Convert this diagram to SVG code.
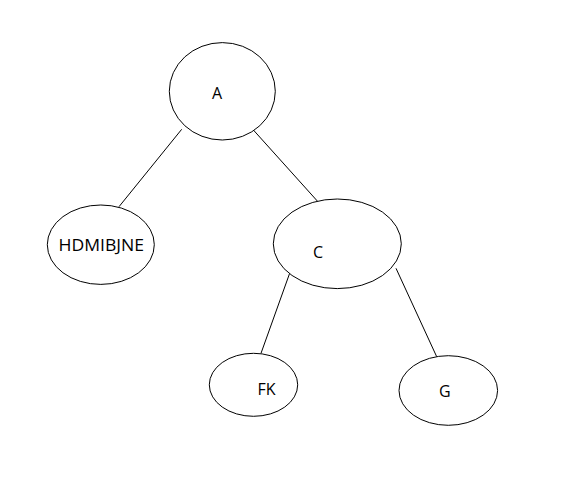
<svg xmlns="http://www.w3.org/2000/svg" width="569" height="481" viewBox="0 0 569 481">
<style>
.n{fill:#fff;stroke:#000;stroke-width:1}
.t{font-family:"Open Sans","Noto Sans",sans-serif;font-size:16px;fill:#000}
.e{stroke:#000;stroke-width:1;fill:none}
</style>
<rect width="569" height="481" fill="#fff"/>
<g id="connectors">
<line class="e" x1="181.7" y1="129.3" x2="119" y2="206.7"/>
<line class="e" x1="251.3" y1="127.7" x2="317.3" y2="201"/>
<line class="e" x1="290" y1="272.3" x2="261" y2="353.3"/>
<line class="e" x1="396" y1="268.3" x2="436.7" y2="356.7"/>
</g>
<g id="node-A">
<ellipse class="n" cx="222.3" cy="91.3" rx="53" ry="48.7"/>
<text class="t" x="212" y="98.5">A</text>
</g>
<g id="node-HDMIBJNE">
<ellipse class="n" cx="100.8" cy="244.7" rx="53.5" ry="39.7"/>
<text class="t" x="58.5" y="250.7" textLength="85.5" lengthAdjust="spacingAndGlyphs">HDMIBJNE</text>
</g>
<g id="node-C">
<ellipse class="n" cx="337.3" cy="243.8" rx="64" ry="44.8"/>
<text class="t" x="313" y="258.3">C</text>
</g>
<g id="node-FK">
<ellipse class="n" cx="253.5" cy="384.8" rx="44.2" ry="31.5"/>
<text class="t" x="257.5" y="395">FK</text>
</g>
<g id="node-G">
<ellipse class="n" cx="448.3" cy="390.5" rx="49.3" ry="34.8"/>
<text class="t" x="439" y="396.7">G</text>
</g>
</svg>
